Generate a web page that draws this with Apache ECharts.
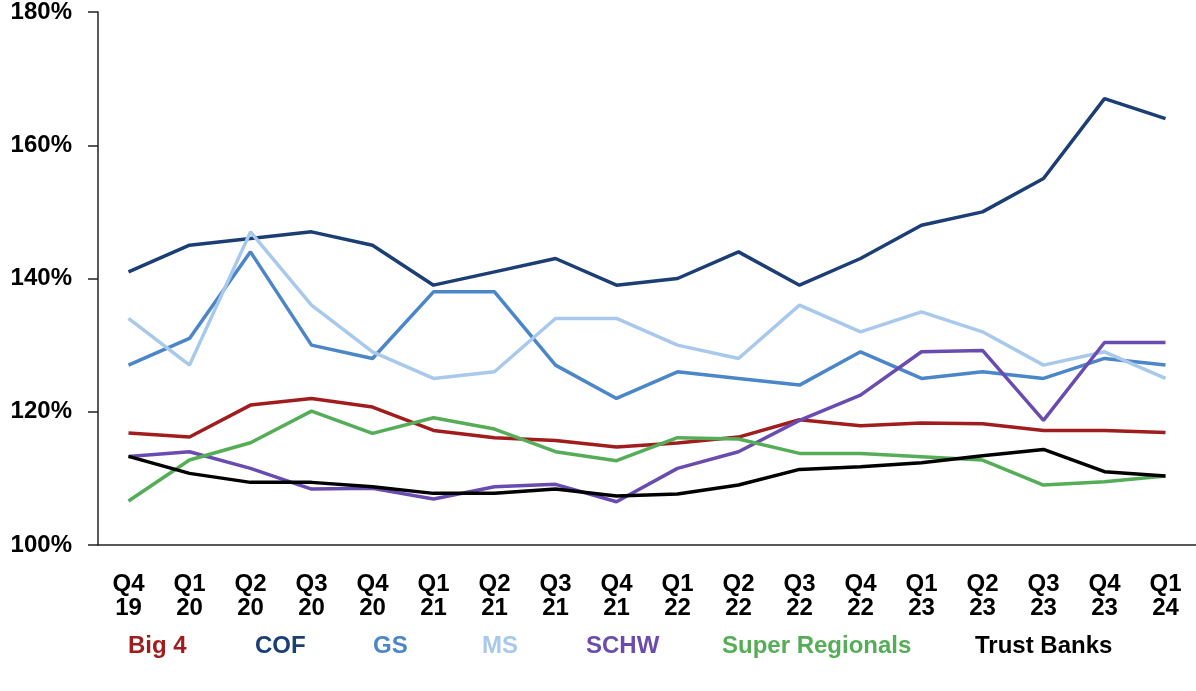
<!DOCTYPE html>
<html><head><meta charset="utf-8">
<script src="https://cdn.jsdelivr.net/npm/echarts@6/dist/echarts.min.js"></script>
<style>html,body{margin:0;padding:0;background:#fff}#c{width:1196px;height:691px}</style>
</head><body><div id="c"></div>
<script>
const categories = ['Q4\n19','Q1\n20','Q2\n20','Q3\n20','Q4\n20','Q1\n21','Q2\n21','Q3\n21','Q4\n21','Q1\n22','Q2\n22','Q3\n22','Q4\n22','Q1\n23','Q2\n23','Q3\n23','Q4\n23','Q1\n24'];
const big4 = [116.8,116.2,121,122,120.7,117.2,116.1,115.7,114.7,115.3,116.2,118.8,117.9,118.3,118.2,117.2,117.2,116.9];
const cof = [141,145,146,147,145,139,141,143,139,140,144,139,143,148,150,155,167,164];
const gs = [127,131,144,130,128,138,138,127,122,126,125,124,129,125,126,125,128,127];
const ms = [134,127,147,136,129,125,126,134,134,130,128,136,132,135,132,127,129,125];
const schw = [113.3,114,111.5,108.4,108.5,106.9,108.75,109.1,106.5,111.5,114,118.7,122.5,129,129.2,118.7,130.4,130.4];
const superRegionals = [106.6,112.75,115.35,120.1,116.75,119.1,117.4,114,112.65,116.1,115.9,113.75,113.75,113.25,112.75,109,109.5,110.35];
const trustBanks = [113.3,110.75,109.4,109.4,108.75,107.75,107.75,108.4,107.35,107.65,109,111.35,111.75,112.35,113.4,114.35,111,110.35];
const yTicks = [100,120,140,160,180];

const seriesDefs = [
  {name:'Big 4', data:big4, color:'#a11d1d'},
  {name:'COF', data:cof, color:'#1b3e74'},
  {name:'GS', data:gs, color:'#4a86c8'},
  {name:'MS', data:ms, color:'#a8c9ec'},
  {name:'SCHW', data:schw, color:'#6a4cb0'},
  {name:'Super Regionals', data:superRegionals, color:'#55ad57'},
  {name:'Trust Banks', data:trustBanks, color:'#000000'}
];
const legendLeft = [123,250,368,477,581,717,970];
const font = '"Liberation Sans", Arial, Helvetica, sans-serif';

const chart = echarts.init(document.getElementById('c'));
chart.setOption({
  animation:false,
  backgroundColor:'#fff',
  grid:{left:98,right:-5,top:12,bottom:146,containLabel:false},
  legend: seriesDefs.map((s,i)=>({
    data:[{name:s.name, textStyle:{color:s.color}}],
    left:legendLeft[i], top:634, icon:'none', itemWidth:0, itemHeight:0, itemGap:0,
    padding:0, selectedMode:false,
    textStyle:{fontFamily:font, fontWeight:'bold', fontSize:24, padding:0}
  })),
  xAxis:{
    type:'category', data:categories, boundaryGap:true,
    axisLine:{lineStyle:{color:'#222', width:1.5}},
    axisTick:{alignWithLabel:true, length:10, lineStyle:{color:'#222', width:1.5}},
    axisLabel:{interval:0, margin:27, color:'#000', fontFamily:font, fontWeight:'bold', fontSize:24, lineHeight:24}
  },
  yAxis:{
    type:'value', min:yTicks[0], max:yTicks[yTicks.length-1], interval:20,
    axisLine:{show:true, lineStyle:{color:'#222', width:1.5}},
    axisTick:{show:true, length:10, lineStyle:{color:'#222', width:1.5}},
    splitLine:{show:false},
    axisLabel:{margin:26, color:'#000', fontFamily:font, fontWeight:'bold', fontSize:24, formatter:v=>v+'%'}
  },
  series: seriesDefs.map(s=>({
    name:s.name, type:'line', data:s.data, symbol:'none',
    lineStyle:{color:s.color, width:3.5}, itemStyle:{color:s.color}
  }))
});
</script></body></html>
